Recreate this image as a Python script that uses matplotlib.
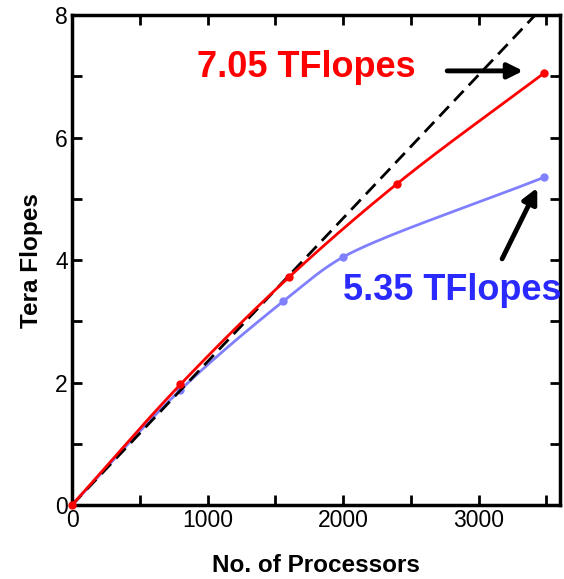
import matplotlib
matplotlib.use('Agg')
import matplotlib.pyplot as plt
import numpy as np
from matplotlib.ticker import MultipleLocator

plt.rcParams['font.family'] = ['Liberation Sans', 'DejaVu Sans']

# data
procs_red = [0, 800, 1600, 2400, 3480]
tflops_red = [0, 1.97, 3.72, 5.25, 7.05]
procs_blue = [0, 800, 1560, 2000, 3480]
tflops_blue = [0, 1.88, 3.33, 4.05, 5.35]
ideal_procs = [0, 3600]
ideal_tflops = [0, 8.43]

XMAX, YMAX = 3600, 8


def smooth(xs, ys, kx, ky, n=40):
    # bezier curve through the points, tangents from neighbouring segments
    # (worked out in screen-like units so the bends look right)
    P = np.column_stack([np.asarray(xs, float) * kx, np.asarray(ys, float) * ky])
    seg = np.diff(P, axis=0)
    L = np.linalg.norm(seg, axis=1)
    u = seg / L[:, None]
    d = np.empty_like(P)
    d[0], d[-1] = u[0], u[-1]
    mid = u[:-1] + u[1:]
    d[1:-1] = mid / np.linalg.norm(mid, axis=1)[:, None]
    # handle length near each point limited by the shorter neighbouring segment
    near = np.concatenate([[L[0]], np.minimum(L[:-1], L[1:]), [L[-1]]])
    t = np.linspace(0, 1, n)[:, None]
    out = []
    for i in range(len(P) - 1):
        p0, p3 = P[i], P[i + 1]
        h0 = min(L[i] / 3, 0.6 * near[i])
        h1 = min(L[i] / 3, 0.6 * near[i + 1])
        p1 = p0 + d[i] * h0
        p2 = p3 - d[i + 1] * h1
        out.append((1 - t)**3 * p0 + 3 * (1 - t)**2 * t * p1
                   + 3 * (1 - t) * t**2 * p2 + t**3 * p3)
    out = np.vstack(out)
    return out[:, 0] / kx, out[:, 1] / ky


fig = plt.figure(figsize=(5.64, 5.79), dpi=100)
ax = fig.add_axes([0.1277, 0.1278, 0.8652, 0.846])
bbox = ax.get_window_extent()
kx, ky = bbox.width / XMAX, bbox.height / YMAX

ax.plot(ideal_procs, ideal_tflops, color='black', lw=2, ls=(0, (5, 2.7)), zorder=3)

sx, sy = smooth(procs_blue, tflops_blue, kx, ky)
ax.plot(sx, sy, color='#8080ff', lw=2, zorder=2)
ax.plot(procs_blue, tflops_blue, 'o', color='#8080ff', ms=5, zorder=2)

sx, sy = smooth(procs_red, tflops_red, kx, ky)
ax.plot(sx, sy, color='#ff0000', lw=2, zorder=4)
ax.plot(procs_red, tflops_red, 'o', color='#ff0000', ms=5, zorder=4, clip_on=False)

ax.set_xlim(0, XMAX)
ax.set_ylim(0, YMAX)
ax.xaxis.set_major_locator(MultipleLocator(1000))
ax.xaxis.set_minor_locator(MultipleLocator(500))
ax.yaxis.set_major_locator(MultipleLocator(2))
ax.yaxis.set_minor_locator(MultipleLocator(1))
ax.tick_params(which='both', direction='in', top=True, right=True,
               length=7, width=2, labelsize=16.5, pad=3)
for s in ax.spines.values():
    s.set_linewidth(2.5)

ax.set_xlabel('No. of Processors', fontsize=17.5, fontweight='bold', labelpad=16)
ax.set_ylabel('Tera Flopes', fontsize=17.5, fontweight='bold', labelpad=9)

ax.text(1727, 7.15, '7.05 TFlopes', color='#ff0000', fontsize=26,
        fontweight='bold', ha='center', va='center')
ax.text(2000, 3.51, '5.35 TFlopes', color='#2a2aff', fontsize=26,
        fontweight='bold', ha='left', va='center', clip_on=False)

arrow = dict(arrowstyle='-|>,head_length=0.9,head_width=0.45', color='black',
             lw=3.5, shrinkA=0, shrinkB=0)
ax.annotate('', xy=(3328, 7.09), xytext=(2768, 7.09), arrowprops=arrow)
ax.annotate('', xy=(3432, 5.18), xytext=(3173, 4.02), arrowprops=arrow)

fig.savefig('out.png', dpi=100)
